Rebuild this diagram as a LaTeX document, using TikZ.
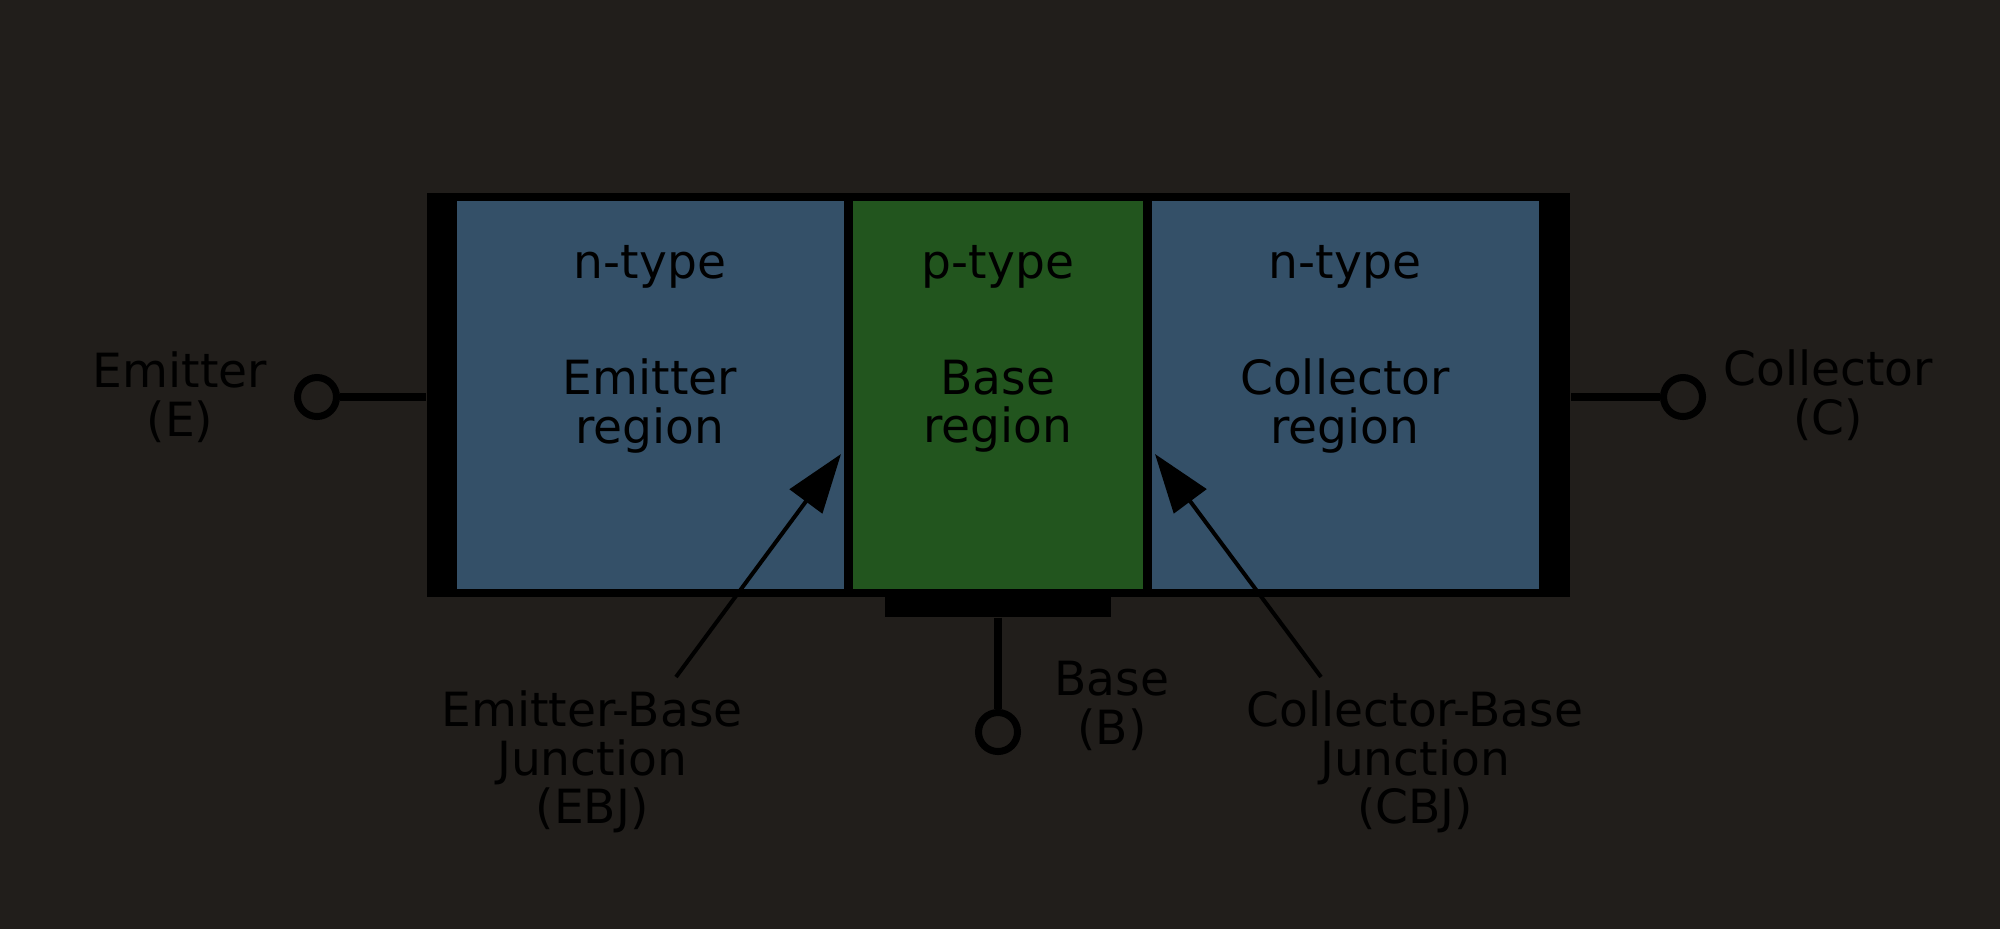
\documentclass[tikz,border=0pt]{standalone}
\usepackage{fontspec}
\setmainfont{DejaVu Sans}
\usetikzlibrary{arrows.meta}
\definecolor{bgdark}{RGB}{33,30,27}
\definecolor{ntype}{RGB}{52,80,104}
\definecolor{ptype}{RGB}{34,85,30}
\tikzset{
	region/.style={draw=none, inner sep=0pt, minimum height=3.88cm},
	terminal/.style={circle, draw=black, line width=0.07cm, minimum size=0.39cm, inner sep=0pt},
	lead/.style={line width=0.08cm, color=black},
	junc/.style={line width=0.04cm, color=black, -{Triangle[length=0.59cm,width=0.40cm]}},
	lbl/.style={align=center, text=black, inner sep=0pt}
}

\begin{document}
\begin{tikzpicture}[x=0.01cm, y=-0.01cm, font=\fontsize{13.4}{13.8}\selectfont]
			%%%%% START %%%%%
			
			\fill[bgdark] (0, 0) rectangle (2000, 929);
			\useasboundingbox (0, 0) rectangle (2000, 929);
			
			\node[region, fill=black, minimum width=11.43cm, minimum height=4.04cm] (frame) at (998.5, 395) {};
			\node[region, fill=black, minimum width=2.26cm, minimum height=0.24cm] (pad) at (998, 605) {};
			
			\node[region, fill=ntype, minimum width=3.87cm] (emitreg) at (650.5, 395) {};
			\node[region, fill=ptype, minimum width=2.90cm] (basereg) at (998, 395) {};
			\node[region, fill=ntype, minimum width=3.87cm] (collreg) at (1345.5, 395) {};
			
			\node[lbl] (ntypeE) at (650, 267) {n-type};
			\node[lbl] (ptypeB) at (998, 267) {p-type};
			\node[lbl] (ntypeC) at (1345, 267) {n-type};
			
			\node[lbl] (emittxt) at (650, 406) {Emitter\\region};
			\node[lbl] (basetxt) at (998, 406) {Base\\region};
			\node[lbl] (colltxt) at (1345, 406) {Collector\\region};
			
			\node[terminal] (E) at (317, 397) {};
			\node[terminal] (C) at (1683, 397) {};
			\node[terminal] (B) at (998, 732) {};
			
			\draw[lead] (E) -- (E -| frame.west);
			\draw[lead] (C) -- (C -| frame.east);
			\draw[lead] (pad) -- (B);
			
			\node[lbl] (Elbl) at (180, 397) {Emitter\\(E)};
			\node[lbl] (Clbl) at (1828, 395) {Collector\\(C)};
			\node[lbl] (Blbl) at (1112, 706) {Base\\(B)};
			
			\node[lbl] (ebj) at (592, 762) {Emitter-Base\\Junction\\(EBJ)};
			\node[lbl] (cbj) at (1415, 762) {Collector-Base\\Junction\\(CBJ)};
			
			\coordinate (ebjfoot) at (676, 677);
			\coordinate (ebjtip) at (841, 454);
			\coordinate (cbjfoot) at (1321, 677);
			\coordinate (cbjtip) at (1155, 454);
			
			\draw[junc] (ebjfoot) -- (ebjtip);
			\draw[junc] (cbjfoot) -- (cbjtip);
			
			%%%%% END %%%%%
\end{tikzpicture}
\end{document}
